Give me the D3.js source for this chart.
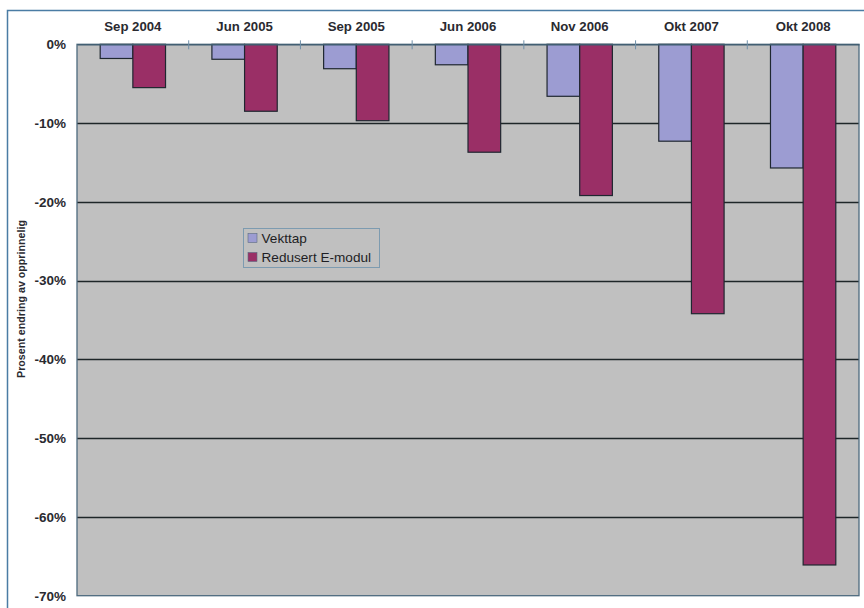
<!DOCTYPE html>
<html>
<head>
<meta charset="utf-8">
<script src="https://cdn.jsdelivr.net/npm/d3@7/dist/d3.min.js"></script>
<style>
  html, body { margin: 0; padding: 0; background: #ffffff; }
  svg { display: block; }
  text { font-family: "Liberation Sans", Arial, sans-serif; }
</style>
</head>
<body>
<svg id="chart" width="864" height="608"></svg>
<script>
// Måletidspunkter og prosentvis endring fra opprinnelig verdi
const categories = ["Sep 2004", "Jun 2005", "Sep 2005", "Jun 2006", "Nov 2006", "Okt 2007", "Okt 2008"];
const seriesNames = ["Vekttap", "Redusert E-modul"];
const vekttap = [-1.8, -1.9, -3.1, -2.6, -6.6, -12.3, -15.7];
const redusertEModul = [-5.5, -8.5, -9.7, -13.7, -19.2, -34.2, -66.1];
const yTicks = [0, -10, -20, -30, -40, -50, -60, -70];
const yTitle = "Prosent endring av opprinnelig";

const colors = { "Vekttap": "#9c9cd2", "Redusert E-modul": "#9a2f66" };
const valuesBySeries = { "Vekttap": vekttap, "Redusert E-modul": redusertEModul };

const svg = d3.select("#chart");
const plot = { left: 77, right: 859, top: 44.3, bottom: 595.7 };

// Chart frame
svg.append("rect")
  .attr("x", 7.5).attr("y", 10.5)
  .attr("width", 870).attr("height", 610)
  .attr("fill", "#ffffff")
  .attr("stroke", "#4a7ca4").attr("stroke-width", 1.5);

const x0 = d3.scaleBand().domain(categories).range([plot.left, plot.right]).paddingInner(0).paddingOuter(0);
const x1 = d3.scaleBand().domain(seriesNames).range([0, x0.bandwidth()]).paddingInner(0).paddingOuter(0.71);
const y = d3.scaleLinear().domain([-70, 0]).range([plot.bottom, plot.top]);

// Plot area background
svg.append("rect")
  .attr("x", plot.left).attr("y", plot.top)
  .attr("width", plot.right - plot.left).attr("height", plot.bottom - plot.top)
  .attr("fill", "#c0c0c0");

// Horizontal gridlines
svg.append("g")
  .selectAll("line")
  .data(yTicks.filter(t => t !== 0 && t !== -70))
  .join("line")
  .attr("x1", plot.left).attr("x2", plot.right)
  .attr("y1", d => Math.round(y(d)) + 0.5).attr("y2", d => Math.round(y(d)) + 0.5)
  .attr("stroke", "#1e2628").attr("stroke-width", 1.3);

// Bars
const rows = categories.map((c, i) => seriesNames.map(s => ({ cat: c, series: s, value: valuesBySeries[s][i] })));
svg.append("g")
  .selectAll("g")
  .data(rows)
  .join("g")
  .attr("transform", d => `translate(${x0(d[0].cat)},0)`)
  .selectAll("rect")
  .data(d => d)
  .join("rect")
  .attr("x", d => x1(d.series))
  .attr("y", y(0))
  .attr("width", x1.bandwidth())
  .attr("height", d => y(d.value) - y(0))
  .attr("fill", d => colors[d.series])
  .attr("stroke", "#1f2730").attr("stroke-width", 1.2);

// Plot border
svg.append("rect")
  .attr("x", plot.left).attr("y", plot.top)
  .attr("width", plot.right - plot.left).attr("height", plot.bottom - plot.top)
  .attr("fill", "none")
  .attr("stroke", "#4d6a7e").attr("stroke-width", 1.3);

// Value axis (left)
const yAxis = d3.axisLeft(y)
  .tickValues(yTicks)
  .tickSize(0)
  .tickPadding(11)
  .tickFormat(d => d + "%");
const gy = svg.append("g").attr("transform", `translate(${plot.left},0)`).call(yAxis);
gy.select(".domain").remove();
gy.selectAll("text")
  .attr("font-family", "'Liberation Sans', Arial, sans-serif")
  .attr("font-size", "13.5px").attr("font-weight", "bold")
  .attr("fill", "#2a2a30");

// Category axis along the 0% line, labels above
const xAxis = d3.axisTop(x0).tickSize(0).tickPadding(13);
const gx = svg.append("g").attr("transform", `translate(0,${y(0)})`).call(xAxis);
gx.select(".domain")
  .attr("stroke", "#3d5a6e").attr("stroke-width", 1.3);
gx.selectAll("text")
  .attr("font-family", "'Liberation Sans', Arial, sans-serif")
  .attr("font-size", "13.2px").attr("font-weight", "bold")
  .attr("fill", "#2a2a30");

// Tick marks between categories
svg.append("g")
  .selectAll("line")
  .data(categories.slice(1))
  .join("line")
  .attr("x1", d => x0(d)).attr("x2", d => x0(d))
  .attr("y1", y(0) - 4).attr("y2", y(0) + 5)
  .attr("stroke", "#6f8fa8").attr("stroke-width", 1);

// Y axis title
svg.append("text")
  .attr("transform", `translate(25,299) rotate(-90)`)
  .attr("text-anchor", "middle")
  .attr("font-size", "10.7px").attr("font-weight", "bold")
  .attr("fill", "#2a2a30")
  .text(yTitle);

// Legend
const legend = svg.append("g").attr("transform", "translate(243,228)");
legend.append("rect")
  .attr("x", 0.5).attr("y", 0.5).attr("width", 136).attr("height", 39)
  .attr("fill", "#c0c0c0")
  .attr("stroke", "#7d9bb0").attr("stroke-width", 1);
const items = legend.selectAll("g.item")
  .data(seriesNames)
  .join("g")
  .attr("class", "item")
  .attr("transform", (d, i) => `translate(5,${10 + i * 19})`);
items.append("rect")
  .attr("x", 0).attr("y", -4.5).attr("width", 9).attr("height", 9)
  .attr("fill", d => colors[d])
  .attr("stroke", "#5a6a80").attr("stroke-width", 0.6);
items.append("text")
  .attr("x", 13.5).attr("y", 0).attr("dy", "0.36em")
  .attr("font-size", "13.6px")
  .attr("fill", "#1e1e24")
  .text(d => d);
</script>
</body>
</html>
